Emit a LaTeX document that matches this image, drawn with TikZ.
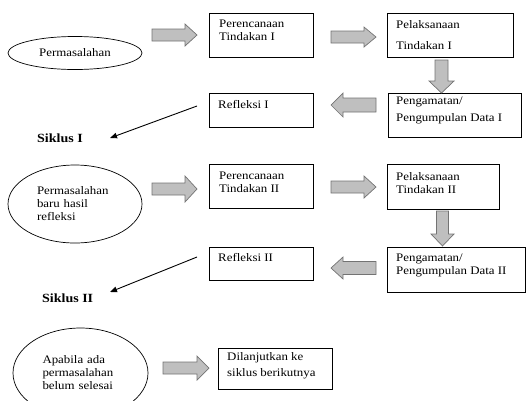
\documentclass[tikz,border=0pt]{standalone}
\usepackage{fontspec}
\setmainfont{Liberation Serif}[FakeStretch=1.12]
\usetikzlibrary{shapes.geometric,arrows.meta}
\tikzset{
  box/.style={draw, line width=0.8pt, fill=white, inner sep=0pt, anchor=north west},
  txt/.style={anchor=north west, inner sep=0pt, align=left},
  blk/.style={draw=black!55, fill=black!25, line width=0.7pt, line join=miter},
  ell/.style={ellipse, draw, line width=0.7pt, inner sep=0pt},
  lnk/.style={-{Triangle[length=7pt,width=5.5pt]}, line width=0.9pt},
  sik/.style={anchor=base west, inner sep=0pt, font=\fontsize{12.5}{14}\selectfont\bfseries}
}
\newcommand\blockarr[5]{%
  \draw[blk, shift={#1}, rotate=#2] (-#3,-#5) -- (#3-12,-#5) -- (#3-12,-#4) -- (#3,0) -- (#3-12,#4) -- (#3-12,#5) -- (-#3,#5) -- cycle;}
\begin{document}
\begin{tikzpicture}[x=1pt,y=-1pt,font=\fontsize{11.5}{13}\selectfont]
\useasboundingbox (0,0) rectangle (526,400);

% ---- Cycle I
\node[ell, minimum width=134pt, minimum height=33pt] (e1) at (75,53) {Permasalahan};
\node[box, minimum width=104pt, minimum height=44pt] (p1) at (209,13) {};
\node[txt] (p1t) at (219,20) {Perencanaan\\Tindakan I};
\node[box, minimum width=126pt, minimum height=44pt] (l1) at (387,13) {};
\node[txt] (l1t) at (396,20) {Pelaksanaan\\[8pt]Tindakan I};
\node[box, minimum width=133pt, minimum height=44pt] (g1) at (388,93) {};
\node[txt] (g1t) at (396,97) {Pengamatan/\\[4pt]Pengumpulan Data I};
\node[box, minimum width=104pt, minimum height=34pt] (r1) at (209,93) {};
\node[txt] (r1t) at (218,100) {Refleksi I};
\node[sik] (s1) at (37,142) {Siklus I};
\coordinate (s1a) at (197,106);
\coordinate (s1b) at (110,138);
\draw[lnk] (s1a) -- (s1b);

\blockarr{(174.5,35)}{0}{22.5}{11}{6}
\blockarr{(353.5,37)}{0}{22.5}{10}{6}
\blockarr{(441.5,76.5)}{-90}{16.5}{12.5}{6.5}
\blockarr{(353.5,105)}{180}{22.5}{12}{7}

% ---- Cycle II
\node[ell, minimum width=134pt, minimum height=78pt, text width=76pt, align=left] (e2) at (75,204) {Permasalahan\\baru hasil\\refleksi};
\node[box, minimum width=104pt, minimum height=44pt] (p2) at (209,164) {};
\node[txt] (p2t) at (219,172) {Perencanaan\\Tindakan II};
\node[box, minimum width=112pt, minimum height=45pt] (l2) at (387,164) {};
\node[txt] (l2t) at (396,172) {Pelaksanaan\\Tindakan II};
\node[box, minimum width=138pt, minimum height=45pt] (g2) at (387,247) {};
\node[txt] (g2t) at (396,254) {Pengamatan/\\Pengumpulan Data II};
\node[box, minimum width=104pt, minimum height=33pt] (r2) at (209,247) {};
\node[txt] (r2t) at (218,253) {Refleksi II};
\node[sik] (s2) at (42,302) {Siklus II};
\coordinate (s2a) at (197,257);
\coordinate (s2b) at (110,292);
\draw[lnk] (s2a) -- (s2b);

\blockarr{(174.5,189)}{0}{22.5}{13}{6}
\blockarr{(353.5,187)}{0}{22.5}{11}{6}
\blockarr{(442.5,228.5)}{-90}{17.5}{11.5}{6}
\blockarr{(353.5,268)}{180}{22.5}{11}{6.5}

% ---- Continuation
\node[ell, minimum width=135pt, minimum height=90pt, text width=76pt, align=left] (e3) at (80.5,373) {Apabila ada\\permasalahan\\belum selesai};
\node[box, minimum width=114pt, minimum height=41pt] (d) at (218,348) {};
\node[txt] (dt) at (227,352) {Dilanjutkan ke\\[3pt]siklus berikutnya};
\blockarr{(186,368)}{0}{23}{12}{6}
\end{tikzpicture}
\end{document}
